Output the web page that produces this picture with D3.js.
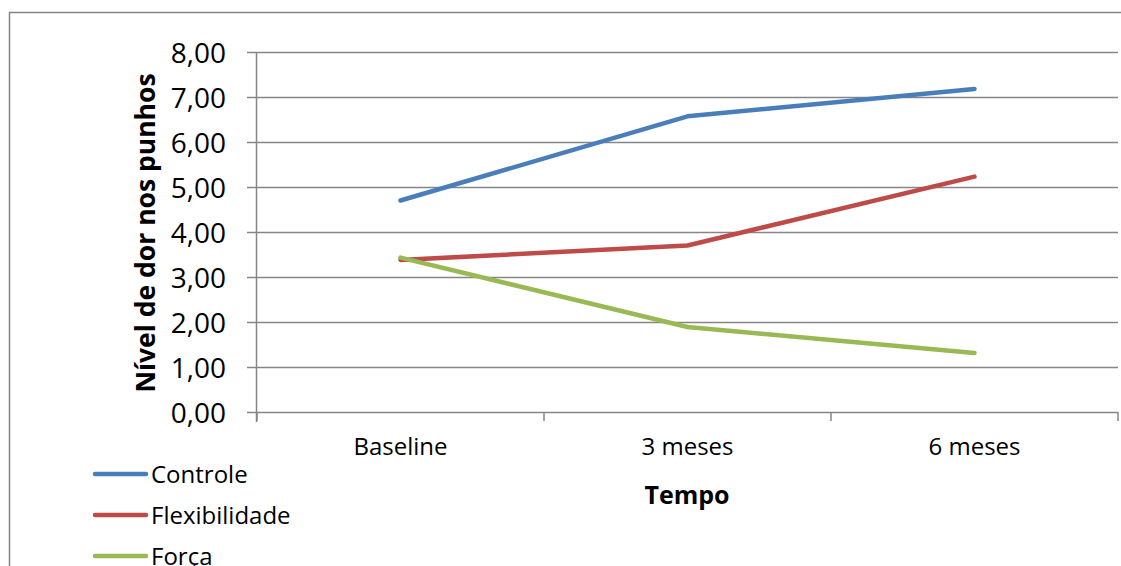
<!DOCTYPE html>
<html>
<head>
<meta charset="utf-8">
<script src="https://cdn.jsdelivr.net/npm/d3@7"></script>
<style>
  body { margin: 0; background: #fff; }
  svg text { font-family: "Open Sans", sans-serif; fill: #000; }
</style>
</head>
<body>
<div id="chart"></div>
<script>
// categories and series
var categories = ["Baseline", "3 meses", "6 meses"];
var seriesNames = ["Controle", "Flexibilidade", "Força"];
var controle = [4.70, 6.57, 7.18];
var flexibilidade = [3.38, 3.70, 5.23];
var forca = [3.43, 1.89, 1.31];
var yTicks = [0, 1, 2, 3, 4, 5, 6, 7, 8];
var colors = ["#4a7ebb", "#be4b48", "#98b954"];

var width = 1121, height = 566;
var plot = {left: 257, right: 1118, top: 52, bottom: 412};

var svg = d3.select("#chart").append("svg")
    .attr("width", width)
    .attr("height", height);

// outer chart border
svg.append("rect")
    .attr("x", 9.5).attr("y", 12.5)
    .attr("width", 1130).attr("height", 600)
    .attr("fill", "none")
    .attr("stroke", "#868686")
    .attr("stroke-width", 1.5);

var x = d3.scaleBand().domain(categories).range([plot.left, plot.right]).paddingInner(0).paddingOuter(0);
var y = d3.scaleLinear().domain([0, 8]).range([plot.bottom, plot.top]);

// gridlines + y axis
var yAxis = d3.axisLeft(y)
    .tickValues(yTicks)
    .tickSize(-(plot.right - plot.left))
    .tickPadding(31)
    .tickFormat(function(d){ return d3.format(".2f")(d).replace(".", ","); });

var gy = svg.append("g")
    .attr("transform", "translate(" + plot.left + ",0)")
    .call(yAxis);
gy.select(".domain").remove();
gy.selectAll(".tick line")
    .attr("x1", -10)
    .attr("stroke", "#868686")
    .attr("stroke-width", 1.5);
gy.selectAll(".tick text")
    .style("font-size", "28px")
    .attr("dy", "0.36em");

// y axis line
svg.append("line")
    .attr("x1", plot.left - 0.5).attr("x2", plot.left - 0.5)
    .attr("y1", plot.top).attr("y2", plot.bottom + 10)
    .attr("stroke", "#868686").attr("stroke-width", 1.5);

// x axis
var xAxis = d3.axisBottom(x).tickSize(0).tickPadding(26);
var gx = svg.append("g")
    .attr("transform", "translate(0," + plot.bottom + ")")
    .call(xAxis);
gx.select(".domain").remove();
gx.selectAll(".tick text").style("font-size", "24px");

// x tick marks at category boundaries
var bounds = categories.map(function(c){ return x(c); }).concat([plot.right]);
svg.selectAll(".xtick")
    .data(bounds)
    .enter().append("line")
    .attr("class", "xtick")
    .attr("x1", function(d){ return d; }).attr("x2", function(d){ return d; })
    .attr("y1", plot.bottom).attr("y2", plot.bottom + 9)
    .attr("stroke", "#868686").attr("stroke-width", 1.5);

// lines
var allSeries = [controle, flexibilidade, forca];
var line = d3.line()
    .x(function(d, i){ return x(categories[i]) + x.bandwidth() / 2; })
    .y(function(d){ return y(d); });

svg.selectAll(".series")
    .data(allSeries)
    .enter().append("path")
    .attr("class", "series")
    .attr("d", line)
    .attr("fill", "none")
    .attr("stroke", function(d, i){ return colors[i]; })
    .attr("stroke-width", 4.5)
    .attr("stroke-linecap", "round")
    .attr("stroke-linejoin", "round");

// axis titles
svg.append("text")
    .attr("transform", "translate(155,233) rotate(-90)")
    .attr("text-anchor", "middle")
    .style("font-size", "26.5px")
    .style("font-weight", "bold")
    .text("Nível de dor nos punhos");

svg.append("text")
    .attr("x", 687).attr("y", 504)
    .attr("text-anchor", "middle")
    .style("font-size", "25px")
    .style("font-weight", "bold")
    .text("Tempo");

// legend
var legend = svg.selectAll(".legend")
    .data(seriesNames)
    .enter().append("g")
    .attr("class", "legend")
    .attr("transform", function(d, i){ return "translate(0," + (474 + i * 41) + ")"; });

legend.append("line")
    .attr("x1", 95).attr("x2", 146)
    .attr("stroke", function(d, i){ return colors[i]; })
    .attr("stroke-width", 4.5)
    .attr("stroke-linecap", "round");

legend.append("text")
    .attr("x", 151).attr("dy", "0.36em")
    .style("font-size", "24px")
    .text(function(d){ return d; });
</script>
</body>
</html>
